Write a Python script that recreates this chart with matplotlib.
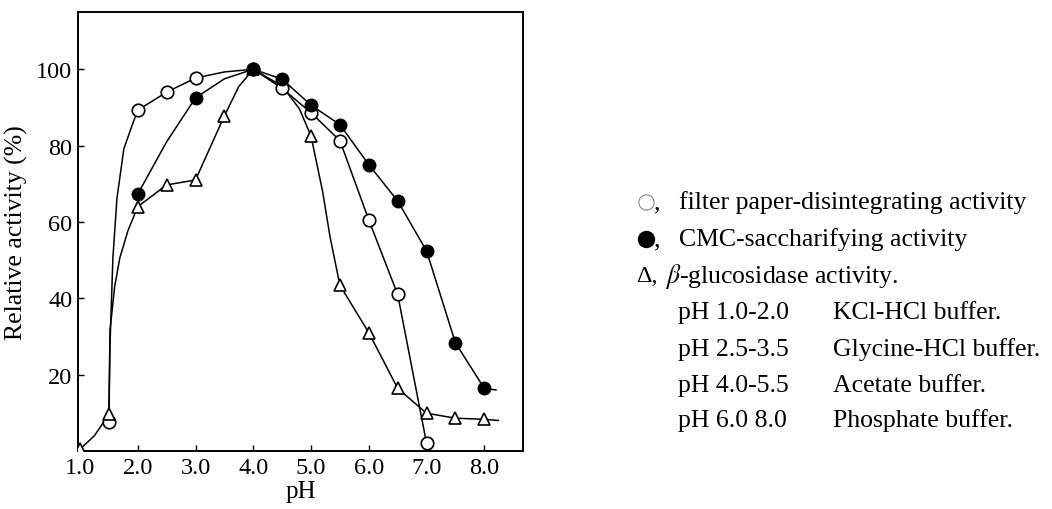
import numpy as np
import matplotlib.pyplot as plt
from matplotlib.lines import Line2D

plt.rcParams['font.family'] = ['Liberation Serif', 'DejaVu Serif']
plt.rcParams['mathtext.fontset'] = 'stix'

#------------------------------------------------------------
# measured points, read off the figure
ph_open = [1.5, 2.0, 2.5, 3.0, 4.0, 4.5, 5.0, 5.5, 6.0, 6.5, 7.0]
act_open = [7.5, 89.3, 94.0, 97.7, 100, 95.0, 88.6, 81.3, 60.5, 41.0, 2.0]

ph_filled = [2.0, 3.0, 4.0, 4.5, 5.0, 5.5, 6.0, 6.5, 7.0, 7.5, 8.0]
act_filled = [67.3, 92.5, 100, 97.4, 90.6, 85.5, 75.0, 65.5, 52.4, 28.3, 16.4]

ph_tri = [1.0, 1.5, 2.0, 2.5, 3.0, 3.5, 4.0, 5.0, 5.5, 6.0, 6.5, 7.0, 7.5, 8.0]
act_tri = [0.5, 9.6, 64.0, 69.7, 71.0, 87.8, 100, 82.5, 43.4, 31.0, 16.4, 9.9, 8.6, 8.3]

# hand-drawn curves through the points, also
curve_open_ph = [1.5, 1.52, 1.57, 1.64, 1.76, 1.9, 2.0, 2.5, 3.0, 3.5, 4.0,
                 4.5, 5.0, 5.5, 6.0, 6.5, 7.0]
curve_open_act = [7.5, 28.0, 50.6, 66.2, 79.2, 85.2, 89.3, 94.0, 97.7, 99.3, 100,
                  95.0, 88.6, 81.3, 60.5, 41.0, 2.0]

curve_filled_ph = [2.0, 2.5, 3.0, 3.5, 4.0, 4.5, 5.0, 5.5, 6.0, 6.5, 7.0, 7.5, 8.0, 8.2]
curve_filled_act = [67.3, 81.0, 92.5, 97.5, 100, 97.4, 90.6, 85.5, 75.0, 65.5, 52.4, 28.3, 16.4, 16.0]

curve_tri_ph = [1.0, 1.25, 1.5, 1.52, 1.6, 1.69, 1.83, 2.0, 2.5, 3.0, 3.5, 3.75, 4.0,
                4.5, 4.8, 5.0, 5.2, 5.33, 5.5, 6.0, 6.5, 7.0, 7.5, 8.0, 8.24]
curve_tri_act = [0.5, 4.0, 9.6, 31.7, 43.0, 50.6, 57.7, 64.0, 69.7, 71.0, 87.8, 95.5, 100,
                 95.6, 89.6, 82.5, 68.0, 56.0, 43.4, 31.0, 16.4, 9.9, 8.6, 8.3, 8.0]

x_ticks = [1.0, 2.0, 3.0, 4.0, 5.0, 6.0, 7.0, 8.0]
y_ticks = [20, 40, 60, 80, 100]

buffer_ranges = ['pH 1.0-2.0', 'pH 2.5-3.5', 'pH 4.0-5.5', 'pH 6.0 8.0']
buffer_names = ['KCl-HCl buffer.', 'Glycine-HCl buffer.', 'Acetate buffer.', 'Phosphate buffer.']

#------------------------------------------------------------
fig = plt.figure(figsize=(10.52, 5.10), dpi=100)
ax = fig.add_axes([0.0741, 0.1137, 0.4231, 0.8608])

ms = 9
ax.plot(curve_open_ph, curve_open_act, '-', color='black', lw=1.1, zorder=2)
ax.plot(curve_filled_ph, curve_filled_act, '-', color='black', lw=1.1, zorder=2)
ax.plot(curve_tri_ph, curve_tri_act, '-', color='black', lw=1.1, zorder=2)

ax.plot(ph_open, act_open, 'o', ms=ms, mfc='white', mec='black', mew=1.2, zorder=3)
ax.plot(ph_filled, act_filled, 'o', ms=ms, mfc='black', mec='black', zorder=4)
ax.plot(ph_tri, act_tri, '^', ms=ms, mfc='white', mec='black', mew=1.2, zorder=3)

ax.set_xlim(0.965, 8.67)
ax.set_ylim(0, 115)
ax.set_xticks(x_ticks)
ax.set_xticklabels(['%.1f' % v for v in x_ticks])
ax.set_yticks(y_ticks)
ax.tick_params(direction='in', length=4, width=1, labelsize=17.5, pad=4)
for s in ax.spines.values():
    s.set_linewidth(1.4)

ax.set_xlabel('pH', fontsize=18, labelpad=2)
ax.set_ylabel('Relative activity (%)', fontsize=18.5, labelpad=6)

# legend block on the right, written as plain text
def fy(py):
    return 1 - py / 510.0

def fx(px):
    return px / 1052.0

fs = 18.5
fig.add_artist(Line2D([fx(646)], [fy(203)], transform=fig.transFigure, marker='o',
                      ms=11, mfc='white', mec='#888888', mew=0.8, ls='none'))
fig.add_artist(Line2D([fx(646)], [fy(240)], transform=fig.transFigure, marker='o',
                      ms=11.5, mfc='black', mec='black', ls='none'))
fig.text(fx(654), fy(203), ',', fontsize=fs, va='center')
fig.text(fx(654), fy(240), ',', fontsize=fs, va='center')
fig.text(fx(679), fy(203), 'filter paper-disintegrating activity', fontsize=fs, va='center')
fig.text(fx(679), fy(240), 'CMC-saccharifying activity', fontsize=fs, va='center')
fig.text(fx(636), fy(277), '\u0394,', fontsize=fs - 1, va='center')
fig.text(fx(665), fy(277), r'$\beta$-glucosidase activity.', fontsize=fs, va='center')

row_y = [313, 350, 386, 421]
for yy, rng, name in zip(row_y, buffer_ranges, buffer_names):
    fig.text(fx(678), fy(yy), rng, fontsize=fs, va='center')
    fig.text(fx(833), fy(yy), name, fontsize=fs, va='center')

plt.savefig('out.png', dpi=100)
